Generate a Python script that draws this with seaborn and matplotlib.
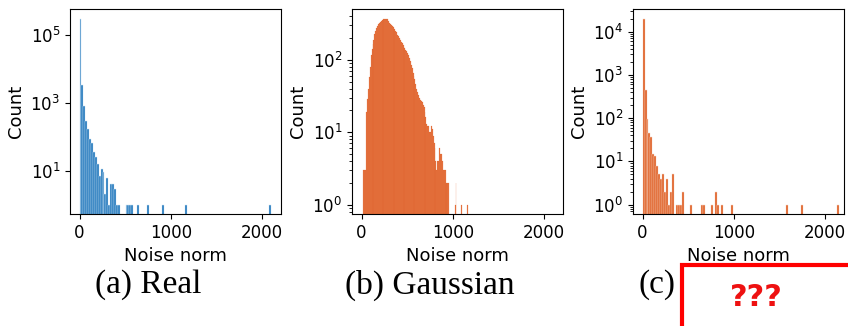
import numpy as np
import pandas as pd
import seaborn as sns
import matplotlib
matplotlib.use("Agg")
import matplotlib.pyplot as plt
from matplotlib.patches import Rectangle
from matplotlib.ticker import NullLocator, FixedLocator

# ---------------- data (bin counts) ----------------
# (a) Real: 100 bins of width 21 starting at 0
real_bin_start = 0.0
real_bin_width = 21.0
real_counts = [310000, 3400, 820, 300, 172, 87, 65, 35, 26, 16,
               7, 11, 9, 2, 6, 1, 4, 4, 3, 1,
               1, 0, 0, 0, 1, 1, 1, 1, 0, 0,
               1, 0, 0, 0, 0, 1, 0, 0, 0, 0,
               0, 0, 0, 1, 0, 0, 0, 0, 0, 0,
               0, 0, 0, 0, 0, 1, 0, 0, 0, 0,
               0, 0, 0, 0, 0, 0, 0, 0, 0, 0,
               0, 0, 0, 0, 0, 0, 0, 0, 0, 0,
               0, 0, 0, 0, 0, 0, 0, 0, 0, 0,
               0, 0, 0, 0, 0, 0, 0, 0, 0, 1]

# (b) Gaussian: 115 bins of width 10 starting at 20
gauss_bin_start = 20.0
gauss_bin_width = 10.0
gauss_counts = [3, 3, 3, 19, 29, 40, 58, 80, 115, 140,
                165, 190, 225, 250, 270, 290, 312, 325, 335, 348,
                352, 358, 365, 362, 370, 360, 368, 345, 320, 310,
                300, 292, 280, 268, 262, 250, 238, 220, 212, 200,
                188, 176, 168, 160, 152, 146, 138, 130, 124, 118,
                106, 97, 85, 78, 66, 60, 54, 46, 40, 36,
                33, 30, 28, 27, 26, 24, 22, 19, 16, 13,
                12, 12, 10, 10, 12, 11, 9, 7, 6, 4,
                3, 4, 4, 6, 5, 5, 4, 3, 3, 3,
                2, 2, 2, 2, 0, 0, 0, 0, 0, 0,
                1, 2, 0, 0, 0, 0, 0, 1, 0, 0,
                0, 0, 0, 0, 1]

# (c) ???: 100 bins of width 21.5 starting at 0
third_bin_start = 0.0
third_bin_width = 21.5
third_counts = [20000, 455, 95, 46, 37, 15, 13, 8, 5, 4,
                5, 2, 4, 1, 2, 5, 0, 1, 1, 1,
                2, 0, 0, 0, 1, 0, 0, 0, 0, 0,
                1, 1, 0, 0, 0, 1, 0, 2, 1, 0,
                1, 0, 0, 0, 0, 1, 0, 0, 0, 0,
                0, 0, 0, 0, 0, 0, 0, 0, 0, 0,
                0, 0, 0, 0, 0, 0, 0, 0, 0, 0,
                0, 0, 0, 1, 0, 0, 0, 0, 0, 0,
                0, 1, 0, 0, 0, 0, 0, 0, 0, 0,
                0, 0, 0, 0, 0, 0, 0, 0, 0, 1]

captions = ["(a) Real", "(b) Gaussian", "(c)"]
x_label = "Noise norm"
y_label = "Count"
x_ticks = [0, 1000, 2000]
real_y_ticks = [1e1, 1e3, 1e5]
x_limits = (-105, 2205)

blue = "#1470b8"
orange = "#de5416"

# ---------------- figure ----------------
plt.rcParams["font.family"] = ["DejaVu Sans"]
fig = plt.figure(figsize=(8.48, 3.26), dpi=100)

ax_w, ax_h = 0.2485, 0.628
ax_bottom = 1 - 214 / 326
lefts = [70 / 848, 352 / 848, 633 / 848]

# (start, width, counts, color, alpha, edgecolor, linewidth)
panels = [
    (real_bin_start, real_bin_width, real_counts, blue, 1.0, "#cfe3f3", 0.35),
    (gauss_bin_start, gauss_bin_width, gauss_counts, orange, 0.78, orange, 0.12),
    (third_bin_start, third_bin_width, third_counts, orange, 1.0, "#f6d8c8", 0.35),
]

axes = []
for left, (start, width, counts, color, alpha, ec, lw) in zip(lefts, panels):
    ax = fig.add_axes([left, ax_bottom, ax_w, ax_h])
    n = len(counts)
    edges = start + width * np.arange(n + 1)
    centers = (edges[:-1] + edges[1:]) / 2
    df = pd.DataFrame({"norm": centers, "count": counts})
    sns.histplot(data=df, x="norm", weights="count",
                 binwidth=width, binrange=(start, start + width * n),
                 color=color, alpha=alpha, edgecolor=ec, linewidth=lw, ax=ax)
    ax.set_yscale("log")
    ax.relim()
    ax.autoscale_view()
    ax.set_xlim(*x_limits)
    ax.set_xticks(x_ticks)
    ax.set_xlabel(x_label, fontsize=13)
    ax.set_ylabel(y_label, fontsize=13)
    ax.tick_params(labelsize=12)
    axes.append(ax)

axes[0].yaxis.set_major_locator(FixedLocator(real_y_ticks))
axes[0].yaxis.set_minor_locator(NullLocator())

# captions
cap_font = dict(family=["Liberation Serif"], fontsize=24, va="center")
fig.text(148 / 848, 1 - 285 / 326, captions[0], ha="center", **cap_font)
fig.text(430 / 848, 1 - 285 / 326, captions[1], ha="center", **cap_font)
fig.text(638 / 848, 1 - 285 / 326, captions[2], ha="left", **cap_font)

# red masked box
rect = Rectangle((682 / 848, -0.1), 0.3, 1 - 265 / 326 + 0.1,
                 transform=fig.transFigure, facecolor="white",
                 edgecolor="#ff0000", linewidth=3, clip_on=False)
fig.add_artist(rect)
fig.text(756 / 848, 1 - 297 / 326, "???", ha="center", va="center",
         color="#ee1111", fontsize=22, fontweight="bold")

fig.savefig("out.png", dpi=100)
